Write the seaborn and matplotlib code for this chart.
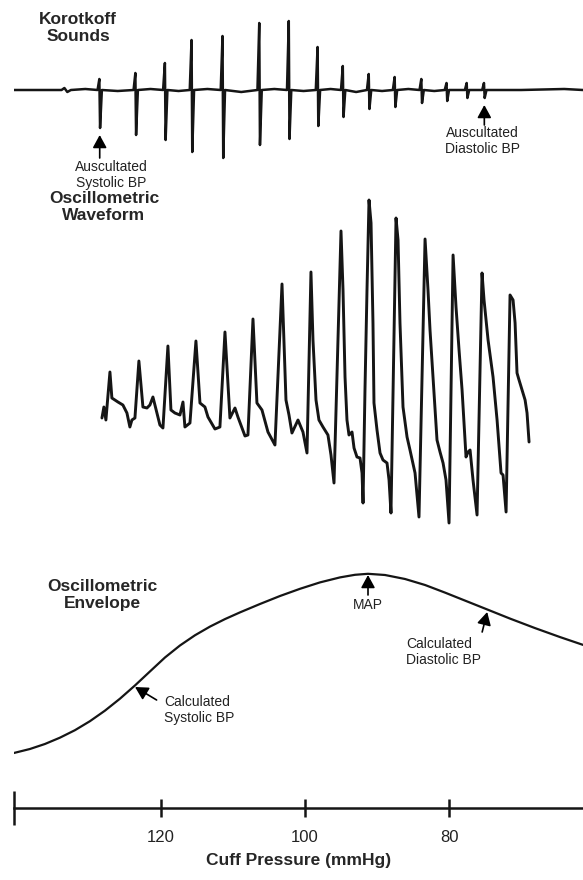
'''
Blood pressure measurement diagram: Korotkoff sounds, oscillometric waveform and envelope
'''

import pandas as pd
import matplotlib
matplotlib.use("Agg")
import matplotlib.pyplot as plt
import seaborn as sns

#Korotkoff sounds - spike position (mmHg) and height above / depth below the baseline
kor_pressure = [128.5, 123.5, 119.4, 115.7, 111.4, 106.3, 102.2, 98.2,
                94.7, 91.1, 87.5, 83.8, 80.3, 77.5, 75.1]
kor_up = [11, 17, 27, 50, 54, 67, 69, 43, 24, 16, 13, 11, 7, 7, 7]
kor_down = [38, 45, 50, 62, 68, 55, 49, 36, 27, 19, 17, 13, 11, 8, 8]
#Small drift of the baseline between consecutive sounds
kor_drift = [-1, 1, -1, 1, -2, 1, -1, 1, -2, -1, 1, -1, 0, 0]
#Baseline before the first and after the last sound
kor_pre_p = [140.4, 133.8, 133.4, 133.0, 132.5, 130.5]
kor_pre_y = [0, 0, 2, -2, 0, 1]
kor_post_p = [70.0, 64.0, 61.4]
kor_post_y = [0, 1, 0]

#Oscillometric waveform
wave_pressure = [128.19, 127.92, 127.64, 127.08, 126.81, 126.39, 125.97, 125.28, 124.72, 124.31,
                 124.03, 123.61, 123.06, 122.5, 121.94, 121.53, 121.11, 120.56, 120.14, 119.72,
                 119.03, 118.61, 118.06, 117.36, 116.94, 116.67, 115.97, 115.14, 114.58, 113.89,
                 113.47, 112.5, 111.81, 111.11, 110.42, 109.72, 109.31, 108.33, 107.92, 107.22,
                 106.67, 105.97, 105.14, 104.17, 103.19, 102.92, 102.64, 102.22, 101.81, 100.97,
                 100.28, 99.72, 99.17, 98.89, 98.47, 98.06, 97.5, 96.81, 96.39, 95.97,
                 95.0, 94.72, 94.44, 94.17, 93.89, 93.47, 93.19, 92.78, 92.36, 92.08,
                 91.94, 91.67, 91.39, 91.11, 90.83, 90.56, 90.42, 90.0, 89.58, 89.17,
                 88.61, 88.33, 88.06, 87.36, 87.08, 86.81, 86.39, 85.83, 85.42, 84.72,
                 84.17, 83.33, 82.92, 82.64, 82.22, 81.94, 81.67, 81.25, 80.83, 80.42,
                 80.0, 79.44, 79.03, 78.61, 78.19, 77.78, 77.64, 77.36, 77.08, 76.67,
                 76.11, 75.42, 75.14, 74.58, 73.89, 73.33, 72.78, 72.5, 72.08, 71.53,
                 71.11, 70.83, 70.56, 70.28, 69.86, 69.44, 69.17, 68.89]
wave_amp = [2, 13, 0, 48, 22, 20, 18, 15, 7, -7,
            0, 2, 59, 13, 12, 15, 23, 7, -5, -8,
            74, 10, 7, 5, 18, -7, -3, 79, 17, 13,
            3, -9, -7, 88, 2, 12, 3, -16, -15, 101,
            17, 10, -12, -25, 136, 80, 20, 5, -13, 0,
            -12, -33, 148, 80, 20, 0, -7, -15, -35, -63,
            189, 130, 43, 0, -15, -12, -28, -37, -38, -53,
            -83, 30, 130, 220, 197, 97, 17, -10, -33, -40,
            -43, -60, -93, 202, 180, 97, 13, -17, -30, -53,
            -97, 181, 130, 90, 43, 10, -20, -32, -43, -60,
            -103, 165, 113, 70, 30, -20, -37, -32, -30, -60,
            -95, 147, 120, 80, 43, 0, -53, -55, -92, 125,
            120, 97, 47, 40, 30, 20, 7, -22]

#Oscillometric envelope
env_pressure = [140.42, 138.19, 136.11, 134.03, 131.94, 129.86, 127.78, 125.69, 123.61, 121.53,
                119.44, 117.36, 115.28, 113.19, 111.11, 109.03, 106.25, 103.47, 100.69, 97.92,
                95.14, 93.06, 91.25, 88.89, 86.11, 83.33, 80.56, 77.78, 74.72, 71.53,
                68.06, 64.58, 61.39]
env_amp = [27, 31, 36, 42.3, 49.8, 58.8, 69.3, 81.3, 94.5, 108.5,
           122.5, 134.5, 144.7, 153.4, 160.9, 167.6, 176, 184, 191.2, 197.6,
           202.6, 205.2, 206.2, 205, 201, 195, 187.4, 179.4, 170.6, 161.4,
           151.9, 142.9, 135.1]

#Marked pressures
auscultated_sys = 128.5
auscultated_dia = 75.1
calc_sys = 123.6
calc_map = 91.25
calc_dia = 74.7

#Axis ticks
tick_values = [120, 100, 80]
tick_labels = ["120", "100", "80"]

X_LIM = (140.4, 61.4)
LINE_COL = "#151515"
W, H = 583, 880


#Build the Korotkoff trace (baseline + spikes) in drawing order
def build_korotkoff_trace():
    xs = list(kor_pre_p)
    ys = list(kor_pre_y)
    for i, p in enumerate(kor_pressure):
        xs += [p + 0.3, p + 0.05, p - 0.05, p - 0.3]
        ys += [0, kor_up[i], -kor_down[i], 0]
        if i < len(kor_drift):
            xs.append((p + kor_pressure[i + 1]) / 2)
            ys.append(kor_drift[i])
    xs += kor_post_p
    ys += kor_post_y
    return pd.DataFrame({"pressure": xs, "amp": ys})


#Axes placed by pixel rows of the figure
def panel(fig, top_px, bottom_px):
    return fig.add_axes([14 / W, 1 - bottom_px / H, (W - 14) / W,
                         (bottom_px - top_px) / H])


def arrow(ax, head, tail):
    ax.annotate("", xy=head, xytext=tail,
                arrowprops=dict(arrowstyle="-|>,head_length=0.55,head_width=0.3",
                                color="black", lw=1.2, mutation_scale=14,
                                shrinkA=0, shrinkB=0))


def plot_diagram():
    sns.set_style("white")
    plt.rcParams["font.family"] = ["Liberation Sans", "DejaVu Sans"]

    fig = plt.figure(figsize=(W / 100, H / 100), dpi=100)
    txt = dict(fontsize=10, color="#222222", linespacing=1.1)
    title = dict(fontsize=12.5, fontweight="bold", ha="center", va="center",
                 linespacing=1.15)

    #Korotkoff sounds
    ax_k = panel(fig, 0, 190)
    sns.lineplot(data=build_korotkoff_trace(), x="pressure", y="amp", sort=False,
                 estimator=None, color=LINE_COL, lw=1.8, ax=ax_k)
    ax_k.set_xlim(*X_LIM)
    ax_k.set_ylim(-100, 90)
    ax_k.axis("off")
    arrow(ax_k, (auscultated_sys, -45), (auscultated_sys, -68))
    ax_k.text(126.9, -85, "Auscultated\nSystolic BP", ha="center", va="center", **txt)
    arrow(ax_k, (auscultated_dia, -15), (auscultated_dia, -35))
    ax_k.text(75.4, -51, "Auscultated\nDiastolic BP", ha="center", va="center", **txt)
    fig.text(78 / W, 1 - 28 / H, "Korotkoff\nSounds", **title)

    #Oscillometric waveform
    ax_w = panel(fig, 190, 540)
    sns.lineplot(x=wave_pressure, y=wave_amp, sort=False, estimator=None,
                 color=LINE_COL, lw=2.1, ax=ax_w)
    ax_w.set_xlim(*X_LIM)
    ax_w.set_ylim(-120, 230)
    ax_w.axis("off")
    fig.text(104 / W, 1 - 207 / H, "Oscillometric\nWaveform", **title)

    #Oscillometric envelope
    ax_e = panel(fig, 540, 780)
    sns.lineplot(x=env_pressure, y=env_amp, sort=False, estimator=None,
                 color=LINE_COL, lw=1.6, ax=ax_e)
    ax_e.set_xlim(*X_LIM)
    ax_e.set_ylim(0, 240)
    ax_e.axis("off")
    arrow(ax_e, (calc_sys, 93), (120.6, 80))
    ax_e.text(119.6, 70, "Calculated\nSystolic BP", ha="left", va="center", **txt)
    arrow(ax_e, (calc_map, 205), (calc_map, 185))
    ax_e.text(calc_map, 175, "MAP", ha="center", va="center", **txt)
    arrow(ax_e, (calc_dia, 168), (75.4, 148))
    ax_e.text(86.0, 128, "Calculated\nDiastolic BP", ha="left", va="center", **txt)
    fig.text(102 / W, 1 - 595 / H, "Oscillometric\nEnvelope", **title)

    #Cuff pressure scale
    ax_s = panel(fig, 780, 808)
    ax_s.set_xlim(*X_LIM)
    ax_s.set_yticks([])
    for side in ["top", "left", "right"]:
        ax_s.spines[side].set_visible(False)
    ax_s.spines["bottom"].set_linewidth(1.8)
    ax_s.spines["bottom"].set_color(LINE_COL)
    ax_s.set_xticks(tick_values, labels=tick_labels)
    ax_s.set_xticks([X_LIM[0]], minor=True)
    ax_s.tick_params("x", which="major", bottom=True, direction="inout", length=13,
                     width=1.8, pad=9, labelsize=12, color=LINE_COL,
                     labelcolor="#222222")
    ax_s.tick_params("x", which="minor", bottom=True, direction="inout", length=25,
                     width=1.8, color=LINE_COL)
    ax_s.set_xlabel("Cuff Pressure (mmHg)", fontsize=12.5, fontweight="bold",
                    labelpad=6)

    plt.savefig("out.png", dpi=100)


plot_diagram()
